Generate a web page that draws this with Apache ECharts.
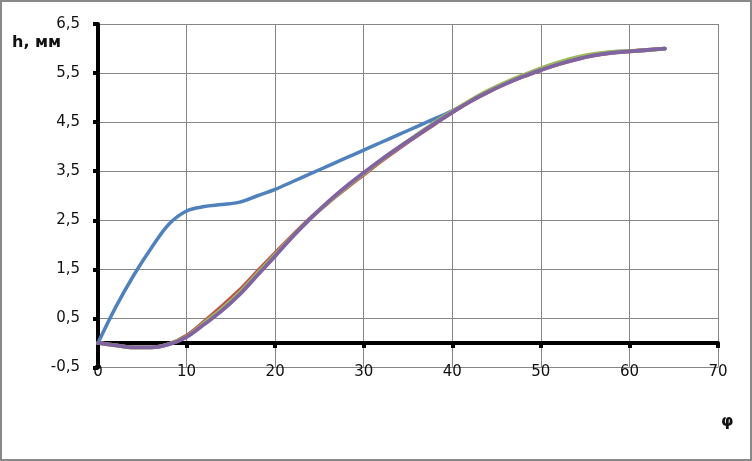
<!DOCTYPE html>
<html>
<head>
<meta charset="utf-8">
<script src="https://cdn.jsdelivr.net/npm/echarts@6/dist/echarts.min.js"></script>
<style>html,body{margin:0;padding:0;background:#fff}#c{width:752px;height:461px}</style>
</head>
<body>
<div id="c"></div>
<script>
var phi = [0,2,4,6,8,10,12,14,16,18,20,22,24,26,28,30,32,34,36,38,40,42,44,46,48,50,52,54,56,58,60,62,64];
var hBlue = [0,0.73,1.37,1.93,2.42,2.69,2.78,2.82,2.87,3.00,3.13,3.29,3.45,3.61,3.77,3.93,4.09,4.25,4.41,4.57,4.73,4.93,5.12,5.29,5.45,5.59,5.71,5.81,5.88,5.93,5.95,5.97,6.00];
var hRed = [0,-0.05,-0.09,-0.09,-0.02,0.15,0.44,0.75,1.08,1.46,1.83,2.20,2.55,2.86,3.15,3.43,3.71,3.97,4.22,4.46,4.70,4.92,5.11,5.28,5.43,5.56,5.68,5.78,5.86,5.91,5.94,5.97,6.00];
var hGreen = [0,-0.05,-0.09,-0.09,-0.02,0.13,0.41,0.70,1.03,1.42,1.80,2.18,2.54,2.87,3.17,3.45,3.73,3.99,4.24,4.49,4.72,4.94,5.14,5.31,5.46,5.60,5.72,5.82,5.89,5.93,5.95,5.97,6.00];
var hPurple = [0,-0.05,-0.09,-0.09,-0.03,0.12,0.38,0.66,0.99,1.38,1.77,2.17,2.54,2.88,3.19,3.47,3.74,3.99,4.23,4.47,4.70,4.92,5.11,5.28,5.43,5.56,5.68,5.78,5.86,5.91,5.94,5.97,6.00];
var xTicks = ['0','10','20','30','40','50','60','70'];
var yTicks = ['-0,5','0,5','1,5','2,5','3,5','4,5','5,5','6,5'];

function pairs(ys){ return phi.map(function(x,i){ return [x, ys[i]]; }); }
var FONT = '"DejaVu Sans", sans-serif';
var chart = echarts.init(document.getElementById('c'), null, {renderer:'canvas'});
var grid = '#868686';
function mk(name, ys, color, w){
  return {name:name, type:'line', data:pairs(ys), xAxisIndex:0, yAxisIndex:0, smooth:0.35, symbol:'none',
    lineStyle:{color:color, width:w, cap:'round', join:'round'}, itemStyle:{color:color}};
}
chart.setOption({
  animation:false,
  backgroundColor:'#fff',
  grid:{left:98, right:34, top:24, bottom:93.5, containLabel:false},
  xAxis:[{
    type:'value', min:0, max:70, interval:10,
    axisLine:{show:true, onZero:true, lineStyle:{color:'#000', width:4}},
    axisTick:{show:true, length:5, lineStyle:{color:'#000', width:4}},
    axisLabel:{show:false},
    splitLine:{show:true, lineStyle:{color:grid, width:1}}
  },{
    type:'value', min:0, max:70, interval:10, position:'bottom',
    axisLine:{show:false, onZero:false},
    axisTick:{show:false},
    splitLine:{show:false},
    axisLabel:{show:true, margin:-3, color:'#111', fontSize:15, fontFamily:FONT,
      formatter:function(v){ return xTicks[Math.round(v/10)]; }}
  }],
  yAxis:{
    type:'value', min:-0.5, max:6.5, interval:1,
    axisLine:{show:true, onZero:false, lineStyle:{color:'#000', width:4}},
    axisTick:{show:true, length:5, lineStyle:{color:'#000', width:4}},
    axisLabel:{margin:18, color:'#111', fontSize:15, fontFamily:FONT,
      formatter:function(v){ return yTicks[Math.round(v+0.5)]; }},
    splitLine:{show:true, lineStyle:{color:grid, width:1}}
  },
  graphic:[
    {type:'rect', shape:{x:1, y:1, width:750, height:459}, style:{fill:null, stroke:'#898989', lineWidth:2}, silent:true},
    {type:'text', left:12, top:35, style:{text:'h, мм', font:'bold 16px '+FONT, fill:'#111'}},
    {type:'text', left:721, top:414, style:{text:'φ', font:'bold 16px '+FONT, fill:'#111'}}
  ],
  series:[
    mk('1', hBlue, '#4F81BD', 3.5),
    mk('2', hRed, '#C0504D', 3.8),
    mk('3', hGreen, '#9BBB59', 3.8),
    mk('4', hPurple, '#8064A2', 3.8)
  ]
});
</script>
</body>
</html>
